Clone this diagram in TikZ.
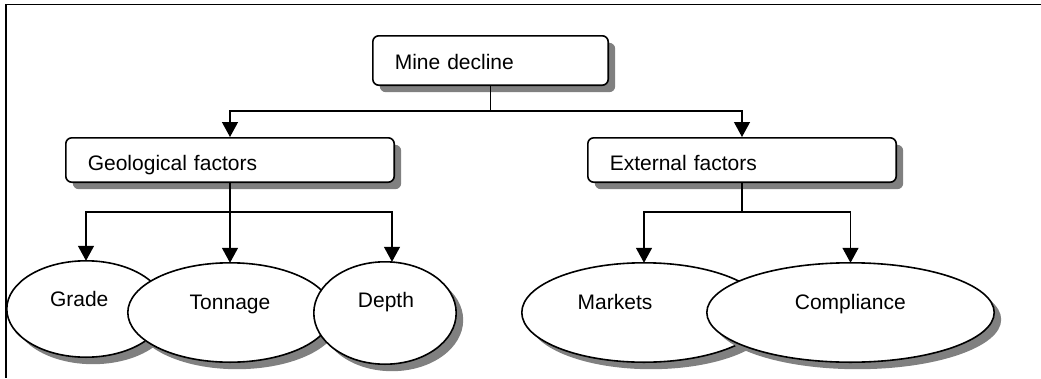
\documentclass[tikz,border=0pt]{standalone}
\usepackage{fontspec}
\setmainfont{Liberation Sans}
\usetikzlibrary{shapes.geometric,shadows,arrows.meta,calc}
\definecolor{shgray}{RGB}{128,128,128}
\newcommand\labelfont{\fontsize{21}{25}\selectfont}
\begin{document}
\begin{tikzpicture}[x=1pt,y=-1pt,
  shadowed/.style={drop shadow={shadow xshift=7pt,shadow yshift=-7pt,fill=shgray,opacity=1}},
  box/.style={draw,line width=1.6pt,rounded corners=6pt,fill=white,shadowed,
    inner xsep=22pt,inner ysep=0pt,align=left,font=\labelfont},
  oval/.style={ellipse,draw,line width=1.6pt,fill=white,shadowed,inner sep=0pt,outer sep=0pt},
  lbl/.style={anchor=base,inner sep=0pt,font=\labelfont},
  conn/.style={line width=1.3pt},
  arr/.style={conn,-{Triangle[width=16pt,length=15pt]}}]
\useasboundingbox (0,0) rectangle (1041,378);
% frame
\draw[line width=1.5pt] (1041,4.5) -- (6,4.5) -- (6,378);
% boxes
\node[box,text width=191.4pt,text height=33.2pt,text depth=16.2pt] (mine) at (490.5,60.5) {Mine decline};
\node[box,text width=284.4pt,text height=32.2pt,text depth=12.2pt] (geo) at (230,160) {Geological factors};
\node[box,text width=264.4pt,text height=32.2pt,text depth=12.2pt] (ext) at (742,160) {External factors};
% ellipses
\node[oval,minimum width=158.4pt,minimum height=96.4pt] (grade) at (86,309) {};
\node[lbl] (gradeT) at (79.2,306) {Grade};
\node[oval,minimum width=204.4pt,minimum height=99.4pt] (tonnage) at (230,312.5) {};
\node[lbl] (tonnageT) at (230,309) {Tonnage};
\node[oval,minimum width=142.4pt,minimum height=102.4pt] (depth) at (385,313) {};
\node[lbl] (depthT) at (386,307) {Depth};
\node[oval,minimum width=244.4pt,minimum height=99.4pt] (markets) at (644,312.5) {};
\node[lbl] (marketsT) at (615,309) {Markets};
\node[oval,minimum width=287.4pt,minimum height=99.4pt] (compliance) at (850.5,312.5) {};
\node[lbl] (complianceT) at (850.3,309) {Compliance};
% junctions
\coordinate (j1) at (490.5,111);
\coordinate (j2) at (230,212);
\coordinate (j3) at (742,212);
% connectors
\draw[conn] (mine.south) -- (j1);
\draw[arr] (j1) -| (geo.north);
\draw[arr] (j1) -| (ext.north);
\draw[conn] (geo.south) -- (j2);
\draw[arr] (j2) -| (grade.north);
\draw[arr] (j2) -- (tonnage.north);
\draw[arr] (j2) -| ($(depth.north)+(7,0)$);
\draw[conn] (ext.south) -- (j3);
\draw[arr] (j3) -| (markets.north);
\draw[arr] (j3) -| (compliance.north);
\end{tikzpicture}
\end{document}
